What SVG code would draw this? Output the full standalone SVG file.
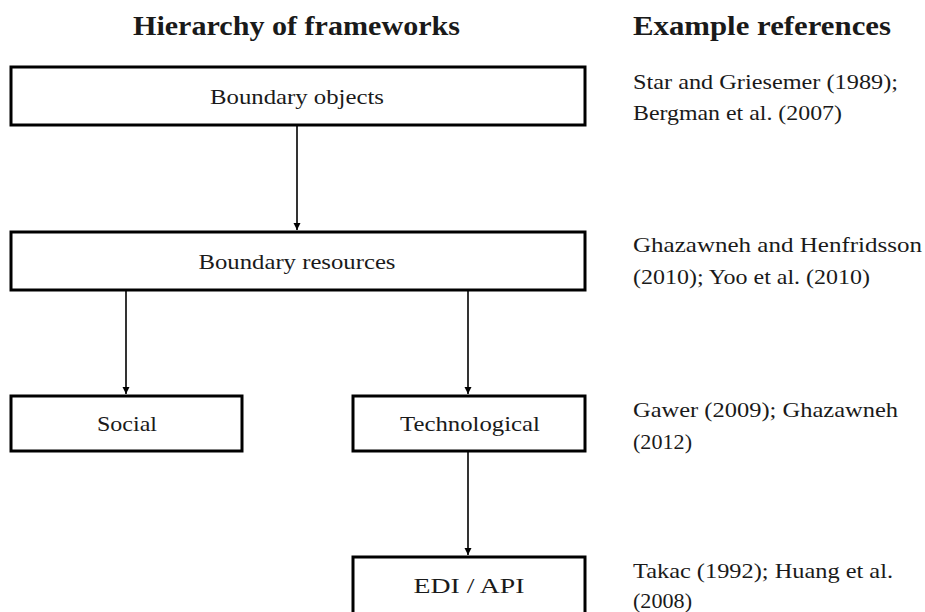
<svg xmlns="http://www.w3.org/2000/svg" width="925" height="612" viewBox="0 0 925 612">
<style>
text{font-family:"Liberation Serif","DejaVu Serif",serif;fill:#1a1a1a}
.h{font-size:27px;font-weight:bold}
.n{font-size:22px;text-anchor:middle}
.r{font-size:22px}
rect{fill:#fff;stroke:#000;stroke-width:3}
.c line{stroke:#000;stroke-width:1.6}
</style>
<defs>
<marker id="ah" viewBox="0 0 10 10" refX="10" refY="5" markerWidth="7" markerHeight="8" markerUnits="userSpaceOnUse" orient="auto">
<path d="M0,0 L10,5 L0,10 z" fill="#000"/>
</marker>
</defs>
<rect x="0" y="0" width="925" height="612" style="fill:#fff;stroke:none"/>
<text class="h" x="133" y="35" textLength="327" lengthAdjust="spacingAndGlyphs">Hierarchy of  frameworks</text>
<text class="h" x="633" y="35" textLength="258" lengthAdjust="spacingAndGlyphs">Example references</text>
<g class="c">
<line x1="297" y1="126" x2="297" y2="230" marker-end="url(#ah)"/>
<line x1="126" y1="291" x2="126" y2="394" marker-end="url(#ah)"/>
<line x1="468" y1="291" x2="468" y2="394" marker-end="url(#ah)"/>
<line x1="468" y1="452" x2="468" y2="555" marker-end="url(#ah)"/>
</g>
<g id="n1"><rect x="11" y="67" width="574" height="58"/><text class="n" x="297" y="104" textLength="174" lengthAdjust="spacingAndGlyphs">Boundary objects</text></g>
<g id="n2"><rect x="11" y="232" width="574" height="58"/><text class="n" x="297" y="269" textLength="197" lengthAdjust="spacingAndGlyphs">Boundary resources</text></g>
<g id="n3"><rect x="11" y="396" width="231" height="55"/><text class="n" x="127" y="431" textLength="60" lengthAdjust="spacingAndGlyphs">Social</text></g>
<g id="n4"><rect x="353" y="396" width="232" height="55"/><text class="n" x="470" y="431" textLength="140" lengthAdjust="spacingAndGlyphs">Technological</text></g>
<g id="n5"><rect x="353" y="557" width="232" height="60"/><text class="n" x="469" y="593" textLength="111" lengthAdjust="spacingAndGlyphs">EDI / API</text></g>
<g id="refs">
<text class="r" x="633" y="89" textLength="265" lengthAdjust="spacingAndGlyphs">Star and Griesemer (1989);</text>
<text class="r" x="633" y="120" textLength="209" lengthAdjust="spacingAndGlyphs">Bergman et al. (2007)</text>
<text class="r" x="633" y="252" textLength="289" lengthAdjust="spacingAndGlyphs">Ghazawneh and Henfridsson</text>
<text class="r" x="633" y="284" textLength="237" lengthAdjust="spacingAndGlyphs">(2010); Yoo et al. (2010)</text>
<text class="r" x="633" y="417" textLength="265" lengthAdjust="spacingAndGlyphs">Gawer (2009); Ghazawneh</text>
<text class="r" x="633" y="449" textLength="59" lengthAdjust="spacingAndGlyphs">(2012)</text>
<text class="r" x="633" y="578" textLength="260" lengthAdjust="spacingAndGlyphs">Takac (1992); Huang et al.</text>
<text class="r" x="633" y="608" textLength="59" lengthAdjust="spacingAndGlyphs">(2008)</text>
</g>
</svg>
